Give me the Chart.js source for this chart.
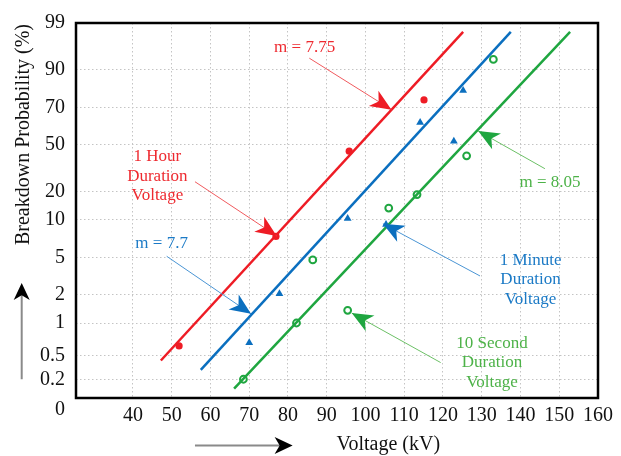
<!DOCTYPE html>
<html>
<head>
<meta charset="utf-8">
<title>Breakdown probability vs voltage</title>
<script src="https://cdn.jsdelivr.net/npm/chart.js@4/dist/chart.umd.min.js"></script>
<style>
  html, body { margin: 0; padding: 0; background: #fff; }
  #wrap { width: 621px; height: 456px; }
</style>
</head>
<body>
<div id="wrap"><canvas id="weibull" width="621" height="456"></canvas></div>
<script>
// probability axis: tick labels (%) and where each one sits on the axis
const probLabels = [0, 0.2, 0.5, 1, 2, 5, 10, 20, 50, 70, 90, 99];
const probPos = [-1.3, 2, 4.5, 8, 11, 15, 19, 22, 27, 31, 35, 40];
const voltTicks = [40, 50, 60, 70, 80, 90, 100, 110, 120, 130, 140, 150, 160];

// measured breakdowns (kV, %)
const hourKV = [51.9, 76.9, 95.8, 115.1];
const hourProb = [0.65, 7.8, 46, 74];
const minuteKV = [70.0, 77.8, 95.4, 105.3, 114.1, 122.8, 125.2];
const minuteProb = [0.7, 2.1, 10.5, 9.4, 62, 52, 79];
const secondKV = [68.5, 82.2, 86.4, 95.4, 106.0, 113.3, 126.1, 133.0];
const secondProb = [0.2, 1.0, 4.8, 1.45, 14.2, 19, 43, 92];

// fitted Weibull lines, end points (kV, %)
const hourFitKV = [47.2, 125.2];
const hourFitProb = [0.44, 97.3];
const minuteFitKV = [57.5, 137.5];
const minuteFitProb = [0.32, 97.3];
const secondFitKV = [66.1, 152.8];
const secondFitProb = [0.14, 97.3];

const RED = "#ee1c25", BLUE = "#0b6fbf", GREEN = "#1fa640";
const SERIF = "'Liberation Serif', 'Times New Roman', serif";

// piecewise map from % to axis position
function probToPos(p) {
  for (let i = 0; i < probLabels.length - 1; i++) {
    if (p <= probLabels[i + 1]) {
      const f = (p - probLabels[i]) / (probLabels[i + 1] - probLabels[i]);
      return probPos[i] + f * (probPos[i + 1] - probPos[i]);
    }
  }
  return probPos[probPos.length - 1];
}

const toXY = (kv, pr) => kv.map((x, i) => ({ x: x, y: probToPos(pr[i]) }));

// callouts: text anchor, line start and arrow tip in (kV, axis position)
const notes = [
  { lines: ["m = 7.75"], text: "#ee2a30", line: "#f05a5e", head: RED, at: [84.3, 37.4], from: [85.5, 36.25], to: [106.7, 30.76] },
  { lines: ["1 Hour", "Duration", "Voltage"], text: "#ee2a30", line: "#f05a5e", head: RED, at: [46.3, 23.67], from: [56.0, 23.07], to: [77.1, 17.29] },
  { lines: ["m = 7.7"], text: "#1b7ac6", line: "#4a95d4", head: BLUE, at: [47.4, 16.51], from: [48.7, 15.12], to: [70.45, 8.98] },
  { lines: ["1 Minute", "Duration", "Voltage"], text: "#1b7ac6", line: "#4a95d4", head: BLUE, at: [142.6, 12.63], from: [129.55, 13.02], to: [104.5, 18.58] },
  { lines: ["m = 8.05"], text: "#4db248", line: "#6cc066", head: GREEN, at: [147.6, 22.99], from: [146.3, 24.46], to: [129.1, 28.48] },
  { lines: ["10 Second", "Duration", "Voltage"], text: "#4db248", line: "#6cc066", head: GREEN, at: [132.65, 3.75], from: [119.4, 3.78], to: [96.45, 9.06] }
];

function arrowHead(ctx, x0, y0, x1, y1, len, half, color) {
  const a = Math.atan2(y1 - y0, x1 - x0);
  ctx.save();
  ctx.translate(x1, y1);
  ctx.rotate(a);
  ctx.beginPath();
  ctx.moveTo(0, 0);
  ctx.lineTo(-len, -half);
  ctx.lineTo(-len * 0.72, 0);
  ctx.lineTo(-len, half);
  ctx.closePath();
  ctx.fillStyle = color;
  ctx.fill();
  ctx.restore();
}

const decor = {
  id: "decor",
  afterDraw(chart) {
    const { ctx, chartArea: area, scales: { x, y } } = chart;
    ctx.save();

    // frame
    ctx.strokeStyle = "#000";
    ctx.lineWidth = 2.5;
    ctx.strokeRect(area.left, area.top, area.right - area.left, area.bottom - area.top);

    // the "0" label sits below the frame
    ctx.fillStyle = "#111";
    ctx.font = "20px " + SERIF;
    ctx.textAlign = "right";
    ctx.textBaseline = "middle";
    ctx.fillText(String(probLabels[0]), y.right - 11, y.getPixelForValue(probPos[0]));

    // callouts
    notes.forEach(n => {
      const x0 = x.getPixelForValue(n.from[0]), y0 = y.getPixelForValue(n.from[1]);
      const x1 = x.getPixelForValue(n.to[0]), y1 = y.getPixelForValue(n.to[1]);
      ctx.strokeStyle = n.line;
      ctx.lineWidth = 1;
      ctx.beginPath();
      ctx.moveTo(x0, y0);
      ctx.lineTo(x1, y1);
      ctx.stroke();
      arrowHead(ctx, x0, y0, x1, y1, 21, 9, n.head);

      ctx.fillStyle = n.text;
      ctx.font = "17px " + SERIF;
      ctx.textAlign = "center";
      ctx.textBaseline = "middle";
      const cx = x.getPixelForValue(n.at[0]), cy = y.getPixelForValue(n.at[1]);
      const mid = (n.lines.length - 1) / 2;
      n.lines.forEach((t, i) => ctx.fillText(t, cx, cy + (i - mid) * 19.5));
    });

    // axis titles
    ctx.fillStyle = "#111";
    ctx.font = "20px " + SERIF;
    ctx.textAlign = "center";
    ctx.textBaseline = "alphabetic";
    ctx.fillText("Voltage (kV)", x.getPixelForValue(105.9), 450);
    ctx.save();
    ctx.translate(29, 134.5);
    ctx.rotate(-Math.PI / 2);
    ctx.fillText("Breakdown Probability (%)", 0, 0);
    ctx.restore();

    // direction arrows
    ctx.strokeStyle = "#8a8a8a";
    ctx.lineWidth = 2;
    const ax = 21.7, ayBottom = y.getPixelForValue(probPos[1]), ayTop = 283;
    ctx.beginPath();
    ctx.moveTo(ax, ayBottom);
    ctx.lineTo(ax, ayTop + 12);
    ctx.stroke();
    arrowHead(ctx, ax, ayBottom, ax, ayTop, 17, 8, "#000");

    const bx0 = x.getPixelForValue(56), bx1 = x.getPixelForValue(81.2), by = 445.5;
    ctx.beginPath();
    ctx.moveTo(bx0, by);
    ctx.lineTo(bx1 - 12, by);
    ctx.stroke();
    arrowHead(ctx, bx0, by, bx1, by, 18, 8.5, "#000");

    ctx.restore();
  }
};

const dotted = { color: "#c4c4c4", lineWidth: 1, drawTicks: false };
const dash = { dash: [1.5, 2.5] };

new Chart(document.getElementById("weibull"), {
  type: "scatter",
  data: {
    datasets: [
      { data: toXY(hourFitKV, hourFitProb), showLine: true, borderColor: RED, borderWidth: 2.5, pointRadius: 0 },
      { data: toXY(minuteFitKV, minuteFitProb), showLine: true, borderColor: BLUE, borderWidth: 2.5, pointRadius: 0 },
      { data: toXY(secondFitKV, secondFitProb), showLine: true, borderColor: GREEN, borderWidth: 2.5, pointRadius: 0 },
      { data: toXY(hourKV, hourProb), pointStyle: "circle", pointRadius: 3.6, backgroundColor: RED, borderColor: RED, borderWidth: 0 },
      { data: toXY(minuteKV, minuteProb), pointStyle: "triangle", pointRadius: 4.5, backgroundColor: BLUE, borderColor: BLUE, borderWidth: 0 },
      { data: toXY(secondKV, secondProb), pointStyle: "circle", pointRadius: 3.4, backgroundColor: "#fff", borderColor: GREEN, borderWidth: 2 }
    ]
  },
  options: {
    responsive: false,
    animation: false,
    events: [],
    layout: { padding: { top: 17, right: 23, left: 0, bottom: 0 } },
    plugins: { legend: { display: false }, tooltip: { enabled: false } },
    scales: {
      x: {
        type: "linear",
        min: 25.3,
        max: 160,
        afterBuildTicks: s => { s.ticks = voltTicks.map(v => ({ value: v })); },
        afterFit: s => { s.height = 58; },
        grid: dotted,
        border: { display: false, ...dash },
        ticks: { autoSkip: false, maxRotation: 0, padding: 6, color: "#111", font: { family: SERIF, size: 20 } }
      },
      y: {
        type: "linear",
        min: 0,
        max: 40,
        afterBuildTicks: s => { s.ticks = probPos.filter(v => v > 0).map(v => ({ value: v })); },
        afterFit: s => { s.width = 76; },
        grid: dotted,
        border: { display: false, ...dash },
        ticks: {
          autoSkip: false,
          padding: 11,
          color: "#111",
          font: { family: SERIF, size: 20 },
          callback: v => String(probLabels[probPos.indexOf(v)])
        }
      }
    }
  },
  plugins: [decor]
});
</script>
</body>
</html>
